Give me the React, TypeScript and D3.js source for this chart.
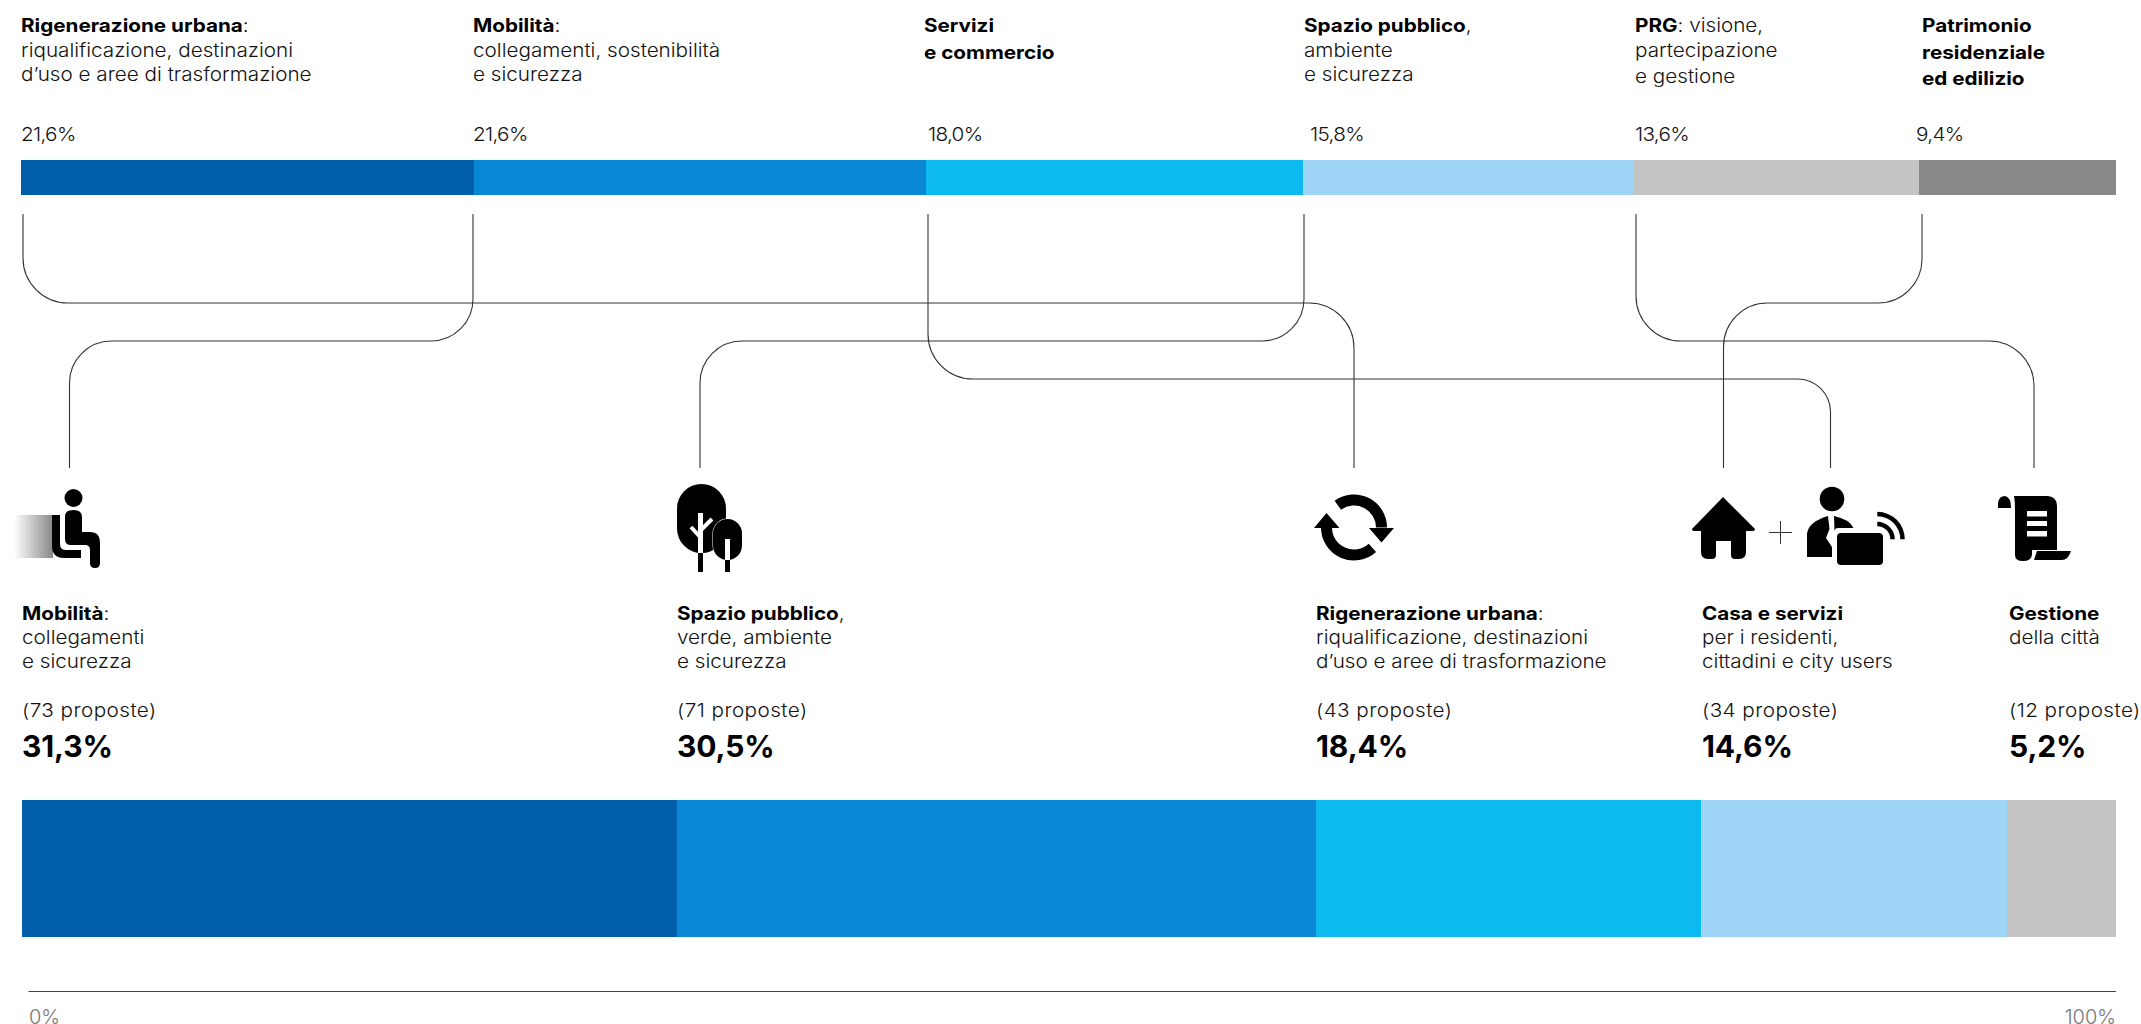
import React from "react";
import * as d3 from "d3";

const WIDTH = 2141;
const HEIGHT = 1024;
const SANS = "Inter, 'Open Sans', sans-serif";
const BODY_SIZE = 18.5;
const BODY_STRETCH = 1.118;

// Share of the proposals' themes, top strip
const topShares = [21.6, 21.6, 18.0, 15.8, 13.6, 9.4];
const topLabels = ["21,6%", "21,6%", "18,0%", "15,8%", "13,6%", "9,4%"];
const topTitles = [
  [["Rigenerazione urbana", ":"], ["", "riqualificazione, destinazioni"], ["", "d’uso e aree di trasformazione"]],
  [["Mobilità", ":"], ["", "collegamenti, sostenibilità"], ["", "e sicurezza"]],
  [["Servizi", ""], ["e commercio", ""]],
  [["Spazio pubblico", ","], ["", "ambiente"], ["", "e sicurezza"]],
  [["PRG", ": visione,"], ["", "partecipazione"], ["", "e gestione"]],
  [["Patrimonio", ""], ["residenziale", ""], ["ed edilizio", ""]],
];
const topTitleX = [21, 473, 924, 1304, 1635, 1922];
const topValueX = [21, 473, 928, 1310, 1635, 1916];
const topLineY = [
  [32, 57, 81],
  [32, 57, 81],
  [32, 59],
  [32, 57, 81],
  [32, 57, 83],
  [32, 59, 85],
];

// Share of the proposals by area, bottom strip
const bottomShares = [31.3, 30.5, 18.4, 14.6, 5.2];
const bottomCounts = ["(73 proposte)", "(71 proposte)", "(43 proposte)", "(34 proposte)", "(12 proposte)"];
const bottomLabels = ["31,3%", "30,5%", "18,4%", "14,6%", "5,2%"];
const bottomTitles = [
  [["Mobilità", ":"], ["", "collegamenti"], ["", "e sicurezza"]],
  [["Spazio pubblico", ","], ["", "verde, ambiente"], ["", "e sicurezza"]],
  [["Rigenerazione urbana", ":"], ["", "riqualificazione, destinazioni"], ["", "d’uso e aree di trasformazione"]],
  [["Casa e servizi", ""], ["", "per i residenti,"], ["", "cittadini e city users"]],
  [["Gestione", ""], ["", "della città"]],
];
const bottomTextX = [22, 677, 1316, 1702, 2009];

const palette = ["#005eaa", "#0888d4", "#0dbaf0", "#9fd6f8", "#c4c4c4", "#888888"];

const axisTicks = ["0%", "100%"];

// Elbow routes joining the top themes to the bottom areas: [x, y] waypoints and corner radii
const CONNECT_TOP = 214;
const CONNECT_BOTTOM = 468;
const routes: { pts: [number, number][]; r: number[] }[] = [
  { pts: [[23, CONNECT_TOP], [23, 303], [1354, 303], [1354, CONNECT_BOTTOM]], r: [45, 45] },
  { pts: [[473, CONNECT_TOP], [473, 341], [69.5, 341], [69.5, CONNECT_BOTTOM]], r: [42, 42] },
  { pts: [[928, CONNECT_TOP], [928, 379], [1830.5, 379], [1830.5, CONNECT_BOTTOM]], r: [45, 33] },
  { pts: [[1304, CONNECT_TOP], [1304, 341], [700, 341], [700, CONNECT_BOTTOM]], r: [42, 42] },
  { pts: [[1636, CONNECT_TOP], [1636, 341], [2034, 341], [2034, CONNECT_BOTTOM]], r: [45, 45] },
  { pts: [[1922, CONNECT_TOP], [1922, 303], [1723.5, 303], [1723.5, CONNECT_BOTTOM]], r: [44, 44] },
];

const xTop = d3.scaleLinear().domain([0, 100]).range([21, 2116]);
const xBottom = d3.scaleLinear().domain([0, 100]).range([22, 2116]);

function spans(values: number[], scale: d3.ScaleLinear<number, number>) {
  const ends = Array.from(d3.cumsum(values));
  return values.map((v, i) => ({ x0: scale(ends[i] - v), x1: scale(ends[i]) }));
}

function routePath(pts: [number, number][], r: number[]) {
  const p = d3.path();
  p.moveTo(pts[0][0], pts[0][1]);
  for (let i = 1; i < pts.length - 1; i++) {
    p.arcTo(pts[i][0], pts[i][1], pts[i + 1][0], pts[i + 1][1], r[i - 1]);
  }
  const last = pts[pts.length - 1];
  p.lineTo(last[0], last[1]);
  return p.toString();
}

function TextBlock({ rows, tx, ys }: { rows: string[][]; tx: number; ys: number[] }) {
  return (
    <text transform={`translate(${tx},0) scale(${BODY_STRETCH},1)`} fontFamily={SANS} fontSize={BODY_SIZE} fill="#111">
      {rows.map((row, i) => (
        <tspan key={i} x={0} y={ys[i]}>
          {row[0] ? <tspan fontWeight={700} fill="#000">{row[0]}</tspan> : null}
          {row[1] ? <tspan fontWeight={300}>{row[1]}</tspan> : null}
        </tspan>
      ))}
    </text>
  );
}

function BodyLine({ tx, y, text, spacing = 0 }: { tx: number; y: number; text: string; spacing?: number }) {
  return (
    <text
      transform={`translate(${tx},${y}) scale(${BODY_STRETCH},1)`}
      fontFamily={SANS}
      fontSize={BODY_SIZE}
      fontWeight={300}
      fill="#111"
      letterSpacing={spacing}
    >
      {text}
    </text>
  );
}

function SeatIcon() {
  return (
    <g>
      <defs>
        <linearGradient id="seatFade" x1="0" x2="1" y1="0" y2="0">
          <stop offset="0" stopColor="#888" stopOpacity={0} />
          <stop offset="1" stopColor="#888" stopOpacity={1} />
        </linearGradient>
      </defs>
      <rect x={14} y={515} width={39} height={43} fill="url(#seatFade)" />
      <circle cx={73.5} cy={498} r={9} fill="#000" />
      <path d="M52 515H60V544Q60 550 66 550H81V558H64Q52 558 52 546Z" fill="#000" />
      <path d="M65 516Q65 510 73.500 510Q82 510 82 517V532H90Q100 532 100 543V563Q100 568 95 568Q90 568 90 563V550Q90 545 85 545H71Q65 545 65 539Z" fill="#000" />
    </g>
  );
}

function TreeIcon() {
  return (
    <g>
      <rect x={677} y={484} width={49} height={69} rx={24.5} fill="#000" />
      <rect x={712.5} y={518.5} width={30} height={42} rx={15} fill="#fff" />
      <rect x={713} y={519} width={29} height={41} rx={14.5} fill="#000" />
      <rect x={698} y={513} width={5} height={40} fill="#fff" />
      <rect x={698} y={553} width={5} height={19} fill="#000" />
      <rect x={725} y={539} width={5} height={21} fill="#fff" />
      <rect x={725} y={560} width={5} height={12} fill="#000" />
      <path d="M691 527L701 538M712 519L701 530" stroke="#fff" strokeWidth={4} fill="none" />
    </g>
  );
}

function RefreshIcon() {
  const ring = d3.arc();
  const rad = (deg: number) => (deg * Math.PI) / 180;
  const upper = ring({ innerRadius: 22, outerRadius: 33, startAngle: rad(-36), endAngle: rad(90) }) as string;
  const lower = ring({ innerRadius: 22, outerRadius: 33, startAngle: rad(138), endAngle: rad(270) }) as string;
  return (
    <g>
      <g transform="translate(1354,527.5)">
        <path d={upper} fill="#000" />
        <path d={lower} fill="#000" />
      </g>
      <path d="M1369 528H1394L1381.500 542.500ZM1314 528H1339.500L1326.500 513Z" fill="#000" />
    </g>
  );
}

function HomeWorkerIcon() {
  const wave = d3.arc();
  const outer = wave({ innerRadius: 23, outerRadius: 27.500, startAngle: 0, endAngle: Math.PI / 2 }) as string;
  const inner = wave({ innerRadius: 13, outerRadius: 17.500, startAngle: 0, endAngle: Math.PI / 2 }) as string;
  return (
    <g>
      <path d="M1723 497L1755 529Q1755 531 1752 531H1746V552Q1746 559 1739 559H1735Q1731 559 1731 555V541H1716V555Q1716 559 1712 559H1708Q1701 559 1701 552V531H1695Q1692 531 1692 529Z" fill="#000" />
      <path d="M1769 532.500H1792M1780.500 521V544" stroke="#333" strokeWidth={1} fill="none" />
      <circle cx={1832} cy={499} r={12.3} fill="#000" />
      <path d="M1807 557V534Q1808 522 1828 516L1829.500 529L1826 538L1832 547V557Z" fill="#000" />
      <path d="M1834 516Q1849 519 1853.500 528H1838Q1835 528 1834.500 531Z" fill="#000" />
      <rect x={1837} y={533} width={46} height={32} rx={4} fill="#000" />
      <g transform="translate(1877.3,539.3)">
        <path d={outer} fill="#000" />
        <path d={inner} fill="#000" />
      </g>
    </g>
  );
}

function ScrollIcon() {
  return (
    <g>
      <path d="M1998 508V503Q1999 496 2005 496Q2011 497 2011 508Z" fill="#000" />
      <path d="M2014 496H2048Q2057 497 2057 506V550H2032V555Q2031 561 2023 561Q2015 561 2015 555V509Q2015 501 2014 496ZM2027 511V516.500H2047V511ZM2027 521V526H2047V521ZM2027 531V536.500H2047V531Z" fill="#000" fillRule="evenodd" />
      <path d="M2037 551H2071Q2068 560 2062 560H2034Z" fill="#000" />
    </g>
  );
}

export default function App() {
  const topBars = spans(topShares, xTop);
  const bottomBars = spans(bottomShares, xBottom);
  return (
    <svg
      width={WIDTH}
      height={HEIGHT}
      viewBox={`0 0 ${WIDTH} ${HEIGHT}`}
      style={{ position: "absolute", left: 0, top: 0, display: "block", background: "#fff" }}
    >
      {/* Theme labels and top strip */}
      {topTitles.map((rows, i) => (
        <TextBlock key={i} rows={rows} tx={topTitleX[i]} ys={topLineY[i]} />
      ))}
      {topLabels.map((t, i) => (
        <BodyLine key={i} tx={topValueX[i]} y={140.5} text={t} spacing={-0.6} />
      ))}
      {topBars.map((b, i) => (
        <rect key={i} x={b.x0} y={160} width={b.x1 - b.x0} height={35} fill={palette[i]} shapeRendering="crispEdges" />
      ))}

      {/* Connectors */}
      {routes.map((r, i) => (
        <path key={i} d={routePath(r.pts, r.r)} fill="none" stroke="#333" strokeWidth={1.1} />
      ))}

      {/* Area pictograms */}
      <SeatIcon />
      <TreeIcon />
      <RefreshIcon />
      <HomeWorkerIcon />
      <ScrollIcon />

      {/* Area labels and bottom strip */}
      {bottomTitles.map((rows, i) => (
        <TextBlock key={i} rows={rows} tx={bottomTextX[i]} ys={[620, 644, 668]} />
      ))}
      {bottomCounts.map((t, i) => (
        <BodyLine key={i} tx={bottomTextX[i]} y={717} text={t} spacing={0.4} />
      ))}
      {bottomLabels.map((t, i) => (
        <text key={i} x={bottomTextX[i]} y={757} fontFamily={SANS} fontSize={30} fontWeight={700} fill="#000" letterSpacing={-0.1}>
          {t}
        </text>
      ))}
      {bottomBars.map((b, i) => (
        <rect key={i} x={b.x0} y={800} width={b.x1 - b.x0} height={137} fill={palette[i]} shapeRendering="crispEdges" />
      ))}

      {/* 0–100% baseline */}
      <line x1={28.5} x2={2116} y1={991.5} y2={991.5} stroke="#444" strokeWidth={1} />
      <text x={29} y={1024} fontFamily={SANS} fontSize={20} fontWeight={300} fill="#777">
        {axisTicks[0]}
      </text>
      <text x={2116} y={1024} textAnchor="end" fontFamily={SANS} fontSize={20} fontWeight={300} fill="#777">
        {axisTicks[1]}
      </text>
    </svg>
  );
}
